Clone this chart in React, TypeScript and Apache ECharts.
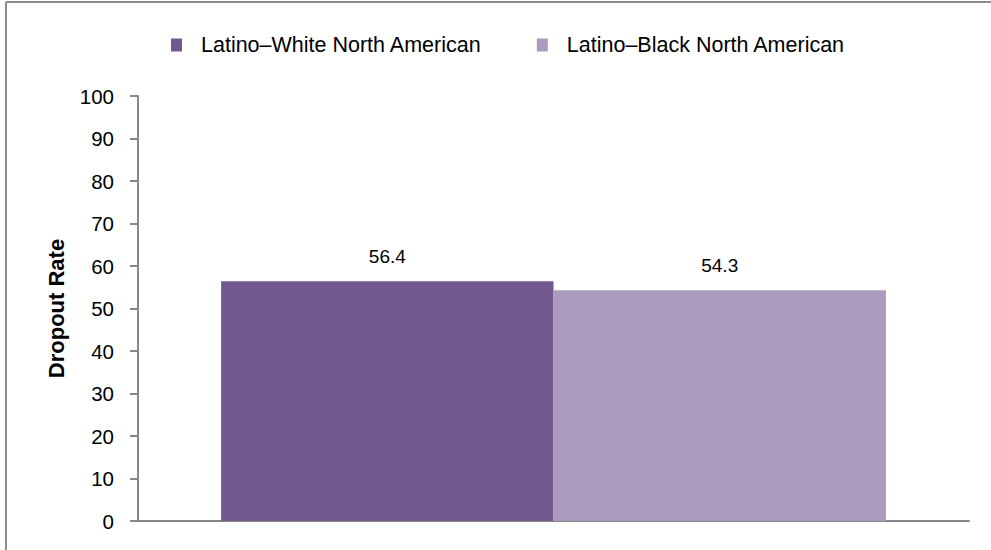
import React, { useEffect, useRef } from "react";
import * as echarts from "echarts";

const categories = [""];
const seriesNames = ["Latino–White North American", "Latino–Black North American"];
const whiteValues = [56.4];
const blackValues = [54.3];
const seriesColors = ["#71598F", "#A99ABE"];
const yAxisName = "Dropout Rate";

const FONT = "'Liberation Sans', Arial, sans-serif";

export default function App() {
  const ref = useRef<HTMLDivElement>(null);
  useEffect(() => {
    if (!ref.current) return;
    const chart = echarts.init(ref.current, null, { renderer: "svg" });
    const labelCfg = {
      show: true,
      position: "top",
      distance: 15,
      color: "#000",
      fontSize: 19,
      fontFamily: FONT,
    };
    chart.setOption({
      animation: false,
      backgroundColor: "#fff",
      textStyle: { fontFamily: FONT },
      graphic: [
        {
          type: "line",
          shape: { x1: 6, y1: 2, x2: 991, y2: 2 },
          style: { stroke: "#8c8c8c", lineWidth: 2 },
        },
        {
          type: "line",
          shape: { x1: 6, y1: 2, x2: 6, y2: 550 },
          style: { stroke: "#8c8c8c", lineWidth: 2 },
        },
      ],
      legend: {
        left: 166,
        top: 29,
        itemWidth: 11,
        itemHeight: 13,
        itemGap: 55,
        icon: "rect",
        textStyle: {
          fontSize: 21.5,
          fontFamily: FONT,
          color: "#000",
          padding: [0, 0, 0, 14],
        },
        data: seriesNames,
      },
      grid: { left: 138, right: 22, top: 96, bottom: 29, containLabel: false },
      xAxis: {
        type: "category",
        data: categories,
        axisLine: { show: true, lineStyle: { color: "#878787", width: 2 } },
        axisTick: { show: false },
        axisLabel: { show: false },
      },
      yAxis: {
        type: "value",
        min: 0,
        max: 100,
        interval: 10,
        name: yAxisName,
        nameLocation: "middle",
        nameGap: 71,
        nameTextStyle: {
          fontSize: 22,
          fontWeight: "bold",
          fontFamily: FONT,
          color: "#000",
        },
        axisLine: { show: true, lineStyle: { color: "#878787", width: 2 } },
        axisTick: { show: true, length: 8, lineStyle: { color: "#878787", width: 2 } },
        axisLabel: { color: "#000", fontSize: 20.5, fontFamily: FONT, margin: 24 },
        splitLine: { show: false },
      },
      series: [
        {
          name: seriesNames[0],
          type: "bar",
          data: whiteValues,
          barGap: "0%",
          barCategoryGap: "20%",
          itemStyle: { color: seriesColors[0] },
          label: labelCfg,
        },
        {
          name: seriesNames[1],
          type: "bar",
          data: blackValues,
          barGap: "0%",
          barCategoryGap: "20%",
          itemStyle: { color: seriesColors[1] },
          label: labelCfg,
        },
      ],
    });
    return () => chart.dispose();
  }, []);
  return (
    <div
      ref={ref}
      style={{ position: "fixed", left: 0, top: 0, width: 991, height: 550 }}
    />
  );
}
